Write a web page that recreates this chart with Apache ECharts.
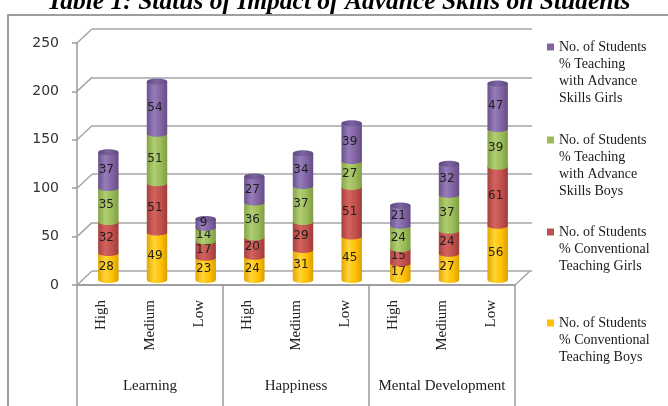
<!DOCTYPE html>
<html>
<head>
<meta charset="utf-8">
<script src="https://cdn.jsdelivr.net/npm/echarts@6/dist/echarts.min.js"></script>
<style>
  html, body { margin: 0; padding: 0; background: #fff; }
  #chart { width: 668px; height: 406px; }
</style>
</head>
<body>
<div id="chart"></div>
<script>
// 数据
const categories = ['High', 'Medium', 'Low', 'High', 'Medium', 'Low', 'High', 'Medium', 'Low'];
const groups = ['Learning', 'Happiness', 'Mental Development'];
const yTicks = [0, 50, 100, 150, 200, 250];

const convBoys = [28, 49, 23, 24, 31, 45, 17, 27, 56];
const convGirls = [32, 51, 17, 20, 29, 51, 15, 24, 61];
const advBoys = [35, 51, 14, 36, 37, 27, 24, 37, 39];
const advGirls = [37, 54, 9, 27, 34, 39, 21, 32, 47];

const seriesDefs = [
  { name: 'No. of Students % Conventional Teaching Boys', lines: ['No. of Students', '% Conventional', 'Teaching Boys'], values: convBoys,
    color: '#FFC000', grad: ['#E3A600', '#FFD437', '#FFC000', '#D99E00'] },
  { name: 'No. of Students % Conventional Teaching Girls', lines: ['No. of Students', '% Conventional', 'Teaching Girls'], values: convGirls,
    color: '#C0504D', grad: ['#A8403D', '#D4625E', '#C0504D', '#9E3B38'] },
  { name: 'No. of Students % Teaching with Advance Skills Boys', lines: ['No. of Students', '% Teaching', 'with Advance', 'Skills Boys'], values: advBoys,
    color: '#9BBB59', grad: ['#85A447', '#B0CD72', '#9BBB59', '#7F9C43'] },
  { name: 'No. of Students % Teaching with Advance Skills Girls', lines: ['No. of Students', '% Teaching', 'with Advance', 'Skills Girls'], values: advGirls,
    color: '#8064A2', grad: ['#6B518D', '#967CB8', '#8064A2', '#654C86'] }
];

// 堆叠底部
const bases = [];
let acc = categories.map(() => 0);
seriesDefs.forEach((s) => {
  bases.push(acc.slice());
  acc = acc.map((a, i) => a + s.values[i]);
});

const chart = echarts.init(document.getElementById('chart'));

const serif = 'Liberation Serif';
const sans = 'DejaVu Sans';
const lineColor = '#9a9a9a';
const L = 77, T = 43, W = 438, H = 242;

function cylinder(def, isTop) {
  return function (params, api) {
    const v = api.value(2);
    const base = api.value(1);
    const p0 = api.coord([api.value(0), base]);
    const p1 = api.coord([api.value(0), base + v]);
    const w = api.size([1, 0])[0] * 0.42;
    const rx = w / 2, ry = 3;
    const fill = new echarts.graphic.LinearGradient(0, 0, 1, 0, [
      { offset: 0, color: def.grad[0] },
      { offset: 0.35, color: def.grad[1] },
      { offset: 0.7, color: def.grad[2] },
      { offset: 1, color: def.grad[3] }
    ]);
    const children = [
      { type: 'rect', shape: { x: p0[0] - rx, y: p1[1], width: w, height: p0[1] - p1[1] }, style: { fill: fill } },
      { type: 'ellipse', shape: { cx: p0[0], cy: p0[1], rx: rx, ry: ry }, style: { fill: fill } }
    ];
    if (isTop) {
      children.push({ type: 'ellipse', shape: { cx: p1[0], cy: p1[1], rx: rx, ry: ry },
        style: { fill: new echarts.graphic.LinearGradient(0, 0, 1, 0, [
          { offset: 0, color: '#5E4780' }, { offset: 0.5, color: '#7D64A0' }, { offset: 1, color: '#5E4780' }
        ]) } });
    }
    children.push({
      type: 'text',
      style: {
        text: String(v), x: p0[0] - 2, y: (p0[1] + p1[1]) / 2,
        align: 'center', verticalAlign: 'middle',
        fontFamily: sans, fontSize: 12, fill: '#1e1e1e'
      }
    });
    return { type: 'group', children: children };
  };
}

const barSeries = seriesDefs.map((def, k) => ({
  name: def.name,
  type: 'custom',
  xAxisIndex: 3,
  yAxisIndex: 3,
  itemStyle: { color: def.color },
  renderItem: cylinder(def, k === seriesDefs.length - 1),
  encode: { x: 0, y: 1 },
  data: def.values.map((v, i) => [i, bases[k][i], v]),
  z: 5
}));

// 左侧和右侧的斜线
const wallSeries = {
  type: 'custom',
  xAxisIndex: 0,
  yAxisIndex: 0,
  silent: true,
  renderItem: function (params, api) {
    const cs = params.coordSys;
    const side = api.value(0);
    const y = api.coord([0, api.value(1)])[1];
    const x0 = side ? cs.x + cs.width : cs.x;
    return { type: 'line', shape: { x1: x0, y1: y, x2: x0 + 15, y2: y - 14 },
      style: { stroke: '#a6a6a6', lineWidth: 1.5 } };
  },
  data: yTicks.map((t) => [0, t]).concat([[1, 0]]),
  z: 1
};

// 图例：文字首行与色块对齐（前面补空行）
const legendIcon = [47, 140, 232, 323];
const legends = seriesDefs.slice().reverse().map((def, k) => {
  const n = def.lines.length;
  return {
    orient: 'vertical',
    left: 547,
    top: legendIcon[k] - (2 * n - 1) * 17 / 2,
    padding: 0,
    itemWidth: 7,
    itemHeight: 7,
    itemGap: 4,
    icon: 'rect',
    data: [def.name],
    formatter: () => ' \n'.repeat(n - 1) + def.lines.join('\n'),
    textStyle: { fontFamily: serif, fontSize: 14, color: '#1a1a1a', lineHeight: 17 }
  };
});

const option = {
  animation: false,
  backgroundColor: '#fff',
  title: {
    text: 'Table 1: Status of Impact of Advance Skills on Students',
    left: 47,
    top: -11,
    padding: 0,
    textStyle: { fontFamily: serif, fontStyle: 'italic', fontWeight: 'bold', fontSize: 25.5, color: '#000' }
  },
  graphic: [
    { type: 'rect', shape: { x: 8, y: 15, width: 700, height: 420 }, style: { fill: 'none', stroke: '#7f7f7f', lineWidth: 1.5 }, z: -1 }
  ],
  legend: legends,
  grid: [
    { left: L, top: T, width: W, height: H },
    { left: L, top: T, width: W, height: H },
    { left: L + 15, top: T - 14, width: W + 2, height: H },
    { left: L + 7, top: T - 5, width: W, height: H }
  ],
  xAxis: [
    {
      gridIndex: 0, type: 'category', data: categories,
      axisLine: { lineStyle: { color: lineColor, width: 1.5 } },
      axisTick: { length: 75, interval: 0, lineStyle: { color: lineColor, width: 1.5 } },
      axisLabel: { rotate: 90, margin: 15, interval: 0, fontFamily: serif, fontSize: 15, color: '#222' }
    },
    {
      gridIndex: 1, type: 'category', data: groups,
      axisLine: { show: true, lineStyle: { color: lineColor, width: 1.5 } },
      axisTick: { show: true, length: 125, interval: 0, lineStyle: { color: lineColor, width: 1.5 } },
      axisLabel: { margin: 94, interval: 0, hideOverlap: false, fontFamily: serif, fontSize: 15, color: '#222' }
    },
    { gridIndex: 2, type: 'category', data: categories, show: false },
    { gridIndex: 3, type: 'category', data: categories, show: false }
  ],
  yAxis: [
    {
      gridIndex: 0, type: 'value', min: 0, max: 250, interval: 50,
      axisLine: { show: true, lineStyle: { color: lineColor, width: 1.5 } },
      axisTick: { show: true, length: 5, lineStyle: { color: lineColor, width: 1.5 } },
      axisLabel: { margin: 18, fontFamily: sans, fontSize: 14, color: '#333' },
      splitLine: { show: false }
    },
    { gridIndex: 1, type: 'value', min: 0, max: 250, interval: 50, show: false },
    {
      gridIndex: 2, type: 'value', min: 0, max: 250, interval: 50,
      axisLine: { show: false }, axisTick: { show: false }, axisLabel: { show: false },
      splitLine: { show: true, lineStyle: { color: '#a6a6a6', width: 1.5 } }
    },
    { gridIndex: 3, type: 'value', min: 0, max: 250, interval: 50, show: false }
  ],
  series: [wallSeries].concat(barSeries)
};

chart.setOption(option);
</script>
</body>
</html>
